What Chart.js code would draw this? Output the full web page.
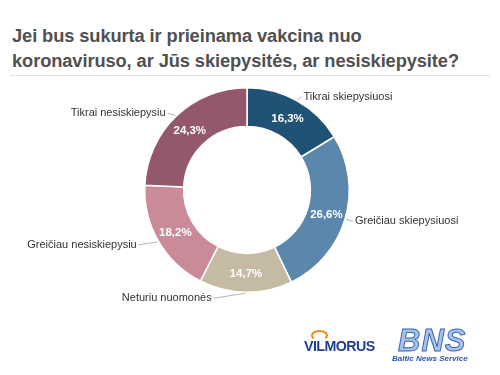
<!DOCTYPE html>
<html>
<head>
<meta charset="utf-8">
<script src="https://cdn.jsdelivr.net/npm/chart.js@4"></script>
<style>
  body { margin: 0; background: #fff; }
  #wrap { position: relative; width: 500px; height: 375px; overflow: hidden; font-family: "Liberation Sans", Arial, sans-serif; }
  #title { position: absolute; left: 12px; top: 23px; font-size: 18.3px; font-weight: bold; color: #505050; line-height: 25px; letter-spacing: -0.1px; }
  #rule { position: absolute; left: 10px; top: 75px; width: 480px; height: 1px; background: #e2e2e2; }
  canvas { position: absolute; left: 0; top: 0; }
  #vilmorus { position: absolute; left: 304px; top: 337px; font-size: 15px; font-weight: bold; color: #1d3f93; letter-spacing: -0.6px; transform: scaleX(0.95); transform-origin: left; }
  #swoosh { position: absolute; left: 311px; top: 330px; width: 13px; height: 7px; border-radius: 50%; border: 2px solid #f08a1c; border-bottom-color: transparent; }
  #bns { position: absolute; left: 398px; top: 323px; font-size: 31px; font-weight: bold; font-style: italic; color: #a9c3e8; -webkit-text-stroke: 1px #3b66b3; letter-spacing: 1px; }
  #bnsSub { position: absolute; left: 392px; top: 354px; font-size: 8px; font-weight: bold; font-style: italic; color: #2b57a8; }
</style>
</head>
<body>
<div id="wrap">
  <div id="title">Jei bus sukurta ir prieinama vakcina nuo<br>koronaviruso, ar Jūs skiepysitės, ar nesiskiepysite?</div>
  <div id="rule"></div>
  <canvas id="chart" width="500" height="375"></canvas>
  <div id="swoosh"></div>
  <div id="vilmorus">VILMORUS</div>
  <div id="bns">BNS</div>
  <div id="bnsSub">Baltic News Service</div>
</div>
<script>
// Survey answers, clockwise from 12 o'clock
const categories = ['Tikrai skiepysiuosi', 'Greičiau skiepysiuosi', 'Neturiu nuomonės', 'Greičiau nesiskiepysiu', 'Tikrai nesiskiepysiu'];
const shares = [16.3, 26.6, 14.7, 18.2, 24.3];
const sliceColors = ['#1f5274', '#5a87ab', '#c5bba5', '#c98b98', '#93596b'];

// Outside labels: which side the text sits on, plus a small offset for the text end
const labelSide = ['right', 'right', 'left', 'left', 'left'];
const labelOffset = [[6, -3], [9, 2], [-34, 5], [-21, 3], [-10, -2]];

const labelPlugin = {
  id: 'donutLabels',
  afterDatasetsDraw(chart) {
    const ctx = chart.ctx;
    const meta = chart.getDatasetMeta(0);
    ctx.save();
    meta.data.forEach((arc, i) => {
      const mid = (arc.startAngle + arc.endAngle) / 2;
      const rMid = (arc.innerRadius + arc.outerRadius) / 2;
      // percentage inside the ring
      ctx.fillStyle = '#fff';
      ctx.font = 'bold 11.5px "Liberation Sans", Arial, sans-serif';
      ctx.textAlign = 'center';
      ctx.textBaseline = 'middle';
      ctx.fillText(shares[i].toFixed(1).replace('.', ',') + '%', arc.x + Math.cos(mid) * rMid, arc.y + Math.sin(mid) * rMid + 1);

      // category name outside with a connector line
      const px = arc.x + Math.cos(mid) * (arc.outerRadius + 1);
      const py = arc.y + Math.sin(mid) * (arc.outerRadius + 1);
      const tx = px + labelOffset[i][0];
      const ty = py + labelOffset[i][1];
      ctx.strokeStyle = '#b5b5b5';
      ctx.lineWidth = 1;
      ctx.beginPath();
      ctx.moveTo(px, py);
      ctx.lineTo(tx + (labelSide[i] === 'right' ? -2 : 2), ty);
      ctx.stroke();
      ctx.fillStyle = '#333333';
      ctx.font = '11px "Liberation Sans", Arial, sans-serif';
      ctx.textAlign = labelSide[i] === 'right' ? 'left' : 'right';
      ctx.fillText(categories[i], tx, ty);
    });
    ctx.restore();
  }
};

new Chart(document.getElementById('chart'), {
  type: 'doughnut',
  data: {
    labels: categories,
    datasets: [{
      data: shares,
      backgroundColor: sliceColors,
      borderColor: '#ffffff',
      borderWidth: 1.5
    }]
  },
  options: {
    responsive: false,
    animation: false,
    cutout: '62%',
    layout: { padding: { top: 87, bottom: 82, left: 144, right: 150 } },
    plugins: {
      legend: { display: false },
      tooltip: { enabled: false }
    }
  },
  plugins: [labelPlugin]
});
</script>
</body>
</html>
